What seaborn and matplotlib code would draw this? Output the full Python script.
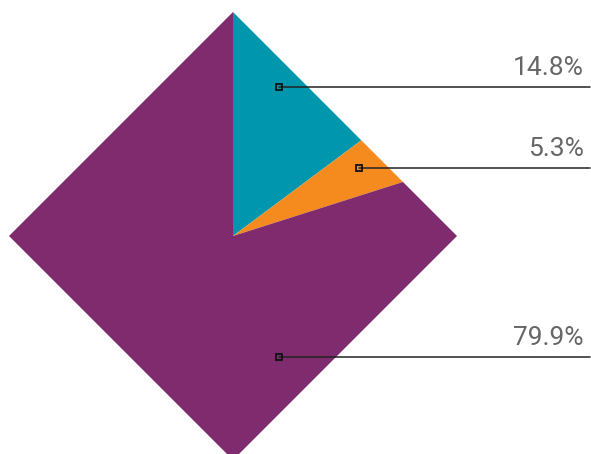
import matplotlib.pyplot as plt
import seaborn as sns

# slice shares, clockwise from the top
shares = [14.8, 5.3, 79.9]
labels = ["14.8%", "5.3%", "79.9%"]
colors = ["#0097AE", "#F58B1F", "#7F2B6E"]

# where each leader line starts (pixel coords, y from the top)
anchors = [(279, 87), (359, 168), (279, 357)]

W, H = 591, 454
cx, cy = 233, 236      # diamond centre
half = 224             # centre to vertex
yc = H - cy

sns.set_theme(style="white")
plt.rcParams['font.family'] = ['Roboto', 'DejaVu Sans']

fig = plt.figure(figsize=(W / 100, H / 100), dpi=100)
ax = fig.add_axes([0, 0, 1, 1])

# a big pie, then the corners outside the diamond are painted white
wedges, _ = ax.pie(shares, colors=colors, startangle=90, counterclock=False,
                   center=(cx, yc), radius=2 * half, frame=True,
                   wedgeprops=dict(linewidth=0))
far = 3000
for sx, sy in [(1, 1), (1, -1), (-1, -1), (-1, 1)]:
    ax.fill([cx, cx, cx + sx * far, cx + sx * half],
            [yc + sy * half, yc + sy * far, yc, yc],
            color="white", lw=0, zorder=2)

for (x, y), lab in zip(anchors, labels):
    ax.plot([x, W - 1], [H - y, H - y], color="#222222", lw=1.1, zorder=3)
    ax.plot(x, H - y, marker="s", ms=5, mfc="none", mec="#111111", mew=1.3, zorder=4)
    ax.text(584, H - y + 7, lab, ha="right", va="bottom", fontsize=19,
            color="#666666", zorder=4)

ax.set_xlim(0, W)
ax.set_ylim(0, H)
ax.set_aspect("equal")
ax.axis("off")

fig.savefig("out.png", dpi=100)
